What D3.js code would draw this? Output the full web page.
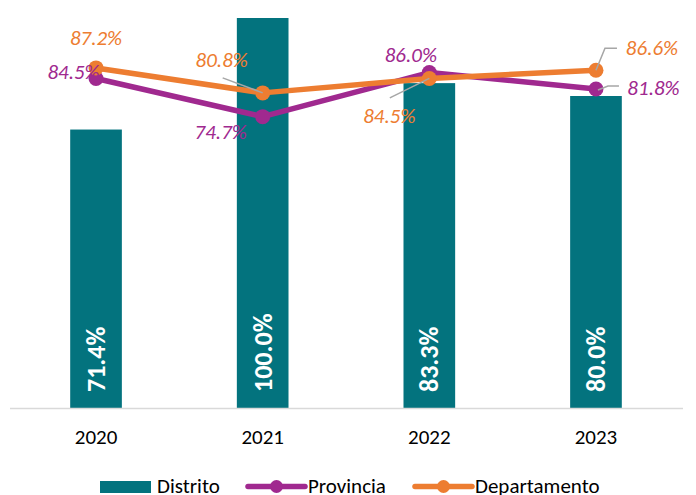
<!DOCTYPE html>
<html>
<head>
<meta charset="utf-8">
<script src="https://cdn.jsdelivr.net/npm/d3@7"></script>
<style>
  body { margin: 0; background: #fff; }
  text { font-family: Carlito, Calibri, Lato, sans-serif; }
</style>
</head>
<body>
<svg id="chart"></svg>
<script>
// data
var years = ["2020", "2021", "2022", "2023"];
var distrito = [71.4, 100.0, 83.3, 80.0];
var provincia = [84.5, 74.7, 86.0, 81.8];
var departamento = [87.2, 80.8, 84.5, 86.6];
var legendNames = ["Distrito", "Provincia", "Departamento"];

var w = 696, h = 495;
var teal = "#03737E", purple = "#A0298F", orange = "#ED7D31";

var svg = d3.select("#chart").attr("width", w).attr("height", h);

var x = d3.scaleBand().domain(years).range([12.7, 679.3]).paddingInner(0.69).paddingOuter(0.345);
var y = d3.scaleLinear().domain([0, 100]).range([408, 18]);
var cx = function (d, i) { return x(years[i]) + x.bandwidth() / 2; };

// bars
svg.append("g").selectAll("rect")
    .data(distrito)
    .enter().append("rect")
    .attr("x", function (d, i) { return x(years[i]); })
    .attr("y", function (d) { return y(d); })
    .attr("width", x.bandwidth())
    .attr("height", function (d) { return y(0) - y(d); })
    .attr("fill", teal);

// bar labels
svg.append("g").selectAll("text")
    .data(distrito)
    .enter().append("text")
    .attr("transform", function (d, i) { return "translate(" + (cx(d, i) + 9) + ",392) rotate(-90)"; })
    .attr("fill", "#fff")
    .style("font-size", "26px")
    .style("font-weight", "bold")
    .text(function (d) { return d.toFixed(1) + "%"; });

// axis
svg.append("line")
    .attr("x1", 10).attr("x2", 683)
    .attr("y1", y(0) + 0.5).attr("y2", y(0) + 0.5)
    .attr("stroke", "#d9d9d9").attr("stroke-width", 1.5);

svg.append("g").selectAll("text")
    .data(years)
    .enter().append("text")
    .attr("x", function (d) { return x(d) + x.bandwidth() / 2; })
    .attr("y", 444)
    .attr("text-anchor", "middle")
    .attr("fill", "#000")
    .style("font-size", "21px")
    .text(function (d) { return d; });

var line = d3.line().x(function (d, i) { return cx(d, i); }).y(function (d) { return y(d); });

function drawSeries(vals, color) {
    svg.append("path").datum(vals)
        .attr("d", line)
        .attr("fill", "none")
        .attr("stroke", color)
        .attr("stroke-width", 5.5)
        .attr("stroke-linejoin", "round");
    svg.append("g").selectAll("circle")
        .data(vals)
        .enter().append("circle")
        .attr("cx", cx)
        .attr("cy", function (d) { return y(d); })
        .attr("r", 7.5)
        .attr("fill", color);
}

drawSeries(provincia, purple);
drawSeries(departamento, orange);

// leader lines (offsets relative to each point)
var leaders = [
    { series: departamento, i: 1, pts: [[-40, -15], [0, 0]] },
    { series: departamento, i: 2, pts: [[-39.5, 19.5], [0, 0]] },
    { series: departamento, i: 3, pts: [[0, 0], [9, -22], [21, -22]] },
    { series: provincia, i: 3, pts: [[2, 1], [12, -3], [23, -3]] }
];
leaders.forEach(function (l) {
    var px = cx(null, l.i), py = y(l.series[l.i]);
    svg.append("path")
        .attr("d", d3.line()(l.pts.map(function (p) { return [px + p[0], py + p[1]]; })))
        .attr("fill", "none")
        .attr("stroke", "#a6a6a6")
        .attr("stroke-width", 1.5);
});

// point labels (offset from each point)
var provOff = [[-22.5, -6.5], [-42, 15.5], [-18.5, -17.5], [57.5, -1]];
var depOff = [[0, -29.5], [-41, -32.5], [-40, 38], [56, -22]];

function labels(vals, off, color) {
    svg.append("g").selectAll("text")
        .data(vals)
        .enter().append("text")
        .attr("x", function (d, i) { return cx(d, i) + off[i][0]; })
        .attr("y", function (d, i) { return y(d) + off[i][1]; })
        .attr("text-anchor", "middle")
        .attr("dy", "0.32em")
        .attr("fill", color)
        .style("font-size", "21px")
        .style("font-style", "italic")
        .text(function (d) { return d.toFixed(1) + "%"; });
}
labels(provincia, provOff, purple);
labels(departamento, depOff, orange);

// legend
var lg = svg.append("g");
lg.append("rect").attr("x", 100).attr("y", 481).attr("width", 51).attr("height", 12).attr("fill", teal);
lg.append("text").attr("x", 157).attr("y", 493).style("font-size", "21px").text(legendNames[0]);
[[248, purple, legendNames[1]], [415, orange, legendNames[2]]].forEach(function (e) {
    lg.append("line").attr("x1", e[0]).attr("x2", e[0] + 57).attr("y1", 486.5).attr("y2", 486.5)
        .attr("stroke", e[1]).attr("stroke-width", 5.5).attr("stroke-linecap", "round");
    lg.append("circle").attr("cx", e[0] + 28.5).attr("cy", 486.5).attr("r", 6.5).attr("fill", e[1]);
    lg.append("text").attr("x", e[0] + 60).attr("y", 493).style("font-size", "21px").text(e[2]);
});
</script>
</body>
</html>
